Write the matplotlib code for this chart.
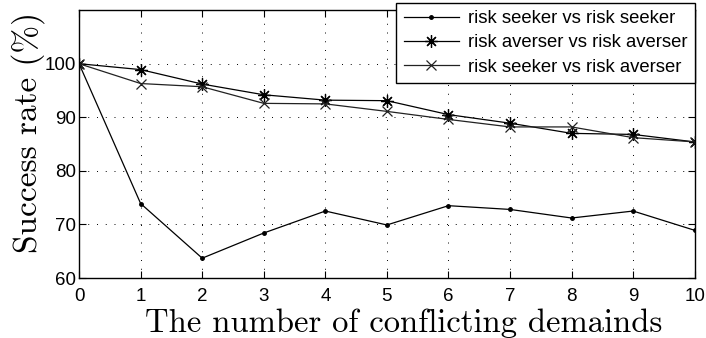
import matplotlib
matplotlib.use("Agg")
import matplotlib.pyplot as plt

# number of conflicting demands
demands = [0, 1, 2, 3, 4, 5, 6, 7, 8, 9, 10]
# success rates (%)
seeker_seeker = [100, 73.9, 63.7, 68.4, 72.5, 69.9, 73.5, 72.8, 71.2, 72.5, 68.9]
averser_averser = [100, 98.9, 96.2, 94.2, 93.2, 93.1, 90.5, 88.9, 87.0, 86.8, 85.4]
seeker_averser = [100, 96.3, 95.7, 92.6, 92.5, 91.1, 89.6, 88.2, 88.2, 86.2, 85.4]
series_names = ["risk seeker vs risk seeker",
                "risk averser vs risk averser",
                "risk seeker vs risk averser"]
yticks = [60, 70, 80, 90, 100]

plt.rcParams['font.family'] = ['Liberation Sans', 'DejaVu Sans']

fig = plt.figure(figsize=(7.06, 3.38), dpi=100)
ax = fig.add_axes([0.112, 0.1775, 0.872, 0.7925])

ax.plot(demands, seeker_seeker, color='black', lw=0.9, marker='.', markersize=5,
        label=series_names[0])
ax.plot(demands, averser_averser, color='black', lw=0.9, marker=(8, 2, 0), markersize=9,
        markeredgewidth=0.9, label=series_names[1])
ax.plot(demands, seeker_averser, color='#222222', lw=0.9, marker='x', markersize=6.5,
        markeredgewidth=0.9, label=series_names[2])

ax.set_xlim(0, 10)
ax.set_ylim(60, 110)
ax.set_xticks(demands)
ax.set_yticks(yticks)
ax.grid(True, color='black', linestyle=(0, (1, 8)), linewidth=0.7)
ax.tick_params(direction='in', top=True, right=True, length=5, labelsize=13.5)
ax.tick_params(axis='x', pad=7)
ax.tick_params(axis='y', pad=2)
for s in ax.spines.values():
    s.set_linewidth(1.0)

ax.set_xlabel("The number of conflicting demainds", family='cmr10', fontsize=23.5)
ax.set_ylabel("Success rate (%)", family='cmr10', fontsize=24)
ax.xaxis.set_label_coords(0.528, -0.112)
ax.yaxis.set_label_coords(-0.056, 0.545)

leg = ax.legend(loc='upper right', bbox_to_anchor=(0.9845, 0.992),
                bbox_transform=fig.transFigure, fontsize=13.3, handlelength=3.0,
                fancybox=False, framealpha=1, edgecolor='black', borderaxespad=0,
                labelspacing=0.4, handletextpad=0.5, borderpad=0.4)
leg.get_frame().set_linewidth(1.0)

fig.savefig("out.png", dpi=100)
